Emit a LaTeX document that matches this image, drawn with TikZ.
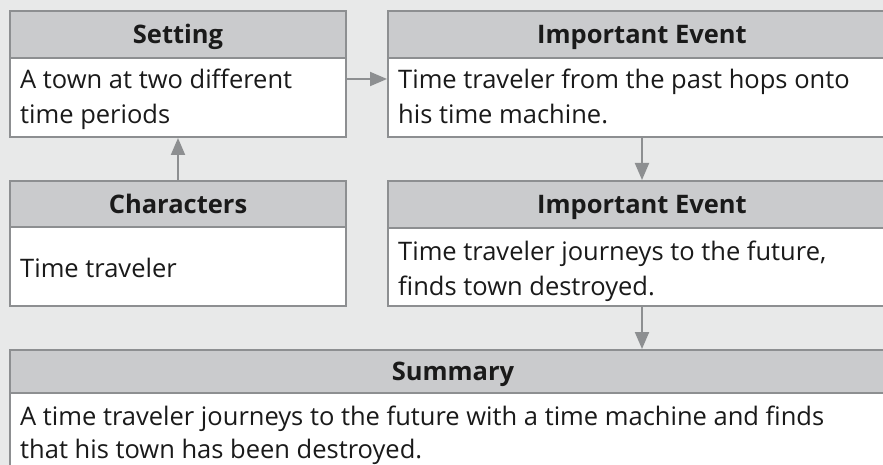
\documentclass[tikz,border=0pt]{standalone}
\usepackage{fontspec}
\setmainfont{Open Sans}
\usetikzlibrary{arrows.meta}
\definecolor{bg}{HTML}{E8E9E9}
\definecolor{hd}{HTML}{CACBCD}
\definecolor{bd}{HTML}{8D8F91}
\definecolor{ink}{HTML}{1A1A1A}
\tikzset{
  box/.style={draw=bd, line width=2pt, rectangle, inner sep=0pt, anchor=north west},
  head/.style={box, fill=hd, text=ink, font=\fontsize{25.5}{30}\selectfont\bfseries, text height=18.5pt, text depth=0pt},
  body/.style={box, fill=white},
  txt/.style={anchor=base west, inner sep=0pt, align=left, text=ink, font=\fontsize{25.5}{35}\selectfont},
  arr/.style={draw=bd, line width=2pt, -{Triangle[length=17pt,width=14pt]}},
}
\begin{document}
\begin{tikzpicture}[x=1pt,y=-1pt]
\useasboundingbox (0,0) rectangle (883,465);
\fill[bg] (0,0) rectangle (883,465);
\clip (0,0) rectangle (883,465);
% Setting
\node[head, minimum width=336pt, minimum height=47pt] (sethead) at (9,10) {Setting};
\node[body, minimum width=336pt, minimum height=79pt] (setbody) at (9,57) {};
\node[txt] (settxt) at (20,124) {A town at two different\\time periods};
% Important Event 1
\node[head, minimum width=508pt, minimum height=47pt] (ev1head) at (387,10) {Important Event};
\node[body, minimum width=508pt, minimum height=79pt] (ev1body) at (387,57) {};
\node[txt] (ev1txt) at (398,124) {Time traveler from the past hops onto\\his time machine.};
% Characters
\node[head, minimum width=336pt, minimum height=46pt] (charhead) at (9,180) {Characters};
\node[body, minimum width=336pt, minimum height=79pt] (charbody) at (9,226) {};
\node[txt] (chartxt) at (20,277) {Time traveler};
% Important Event 2
\node[head, minimum width=508pt, minimum height=47pt] (ev2head) at (387,180) {Important Event};
\node[body, minimum width=508pt, minimum height=78pt] (ev2body) at (387,227) {};
\node[txt] (ev2txt) at (398,295) {Time traveler journeys to the future,\\finds town destroyed.};
% Summary
\node[head, minimum width=886pt, minimum height=43pt] (sumhead) at (9,349) {Summary};
\node[body, minimum width=886pt, minimum height=120pt] (sumbody) at (9,392) {};
\node[txt, font=\fontsize{25.5}{33}\selectfont] (sumtxt) at (20,458) {A time traveler journeys to the future with a time machine and finds\\that his town has been destroyed.};
% connectors
\draw[arr] (charhead.north) -- (setbody.south);
\draw[arr] ([yshift=-22pt]setbody.north east) -- ([yshift=-22pt]ev1body.north west);
\draw[arr] (ev1body.south) -- (ev2head.north);
\draw[arr] (ev2body.south) -- (ev2body.south |- sumhead.north);
\end{tikzpicture}
\end{document}
